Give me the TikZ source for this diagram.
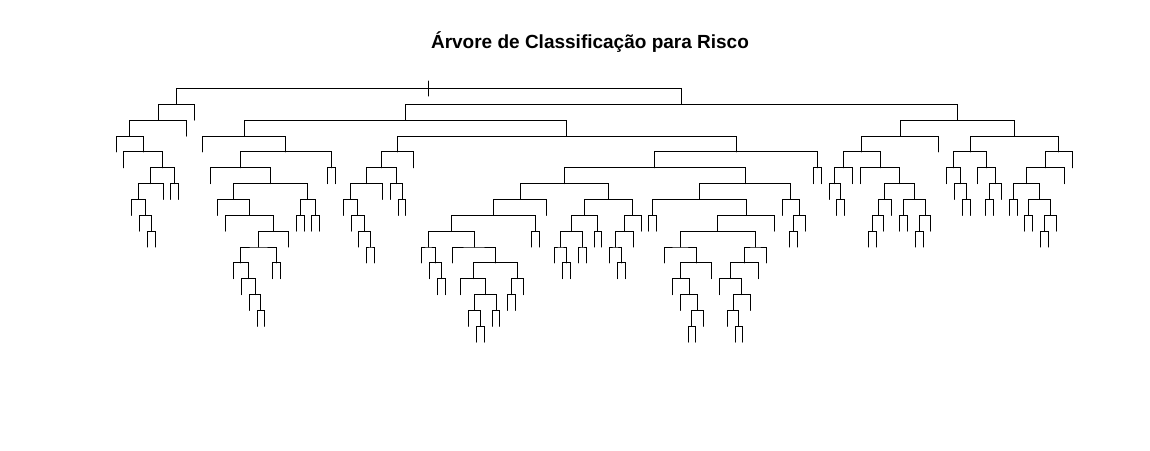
\documentclass[tikz,border=0pt]{standalone}
\usepackage{fontspec}
\setmainfont{Liberation Sans}
\usetikzlibrary{calc}
\tikzset{br/.style={draw=black,line width=1pt,line cap=round}}
% name, left child, right child, depth
\newcommand\tbranch[4]{%
  \coordinate (#1m) at ($(#2)!0.5!(#3)$);
  \coordinate (#1) at (#1m |- D#4);
  \draw[br] (#2) |- (#1) -| (#3);}
\begin{document}
\begin{tikzpicture}[x=1pt,y=-1pt]
\useasboundingbox (0,0) rectangle (1150,450);
\node[anchor=base,font=\fontsize{19}{22}\selectfont\bfseries] (title) at (590,48) {Árvore de Classificação para Risco};
\foreach \d in {0,...,16} \coordinate (D\d) at (0,{88.5+15.85*\d});
\foreach \k/\d in {0/4,1/5,2/8,3/9,4/10,5/10,6/7,7/7,8/7,9/3,10/2,11/4,12/6,13/8,14/9,15/12,16/13,17/14,18/15,19/15,20/12,21/12,22/10,23/9,24/9,25/9,26/9,27/6,28/6,29/8,30/9,31/10,32/11,33/11,34/7,35/7,36/8,37/8,38/5,39/11,40/12,41/13,42/13,43/11,44/13,45/15,46/16,47/16,48/15,49/15,50/14,51/14,52/13,53/10,54/10,55/8,56/11,57/12,58/12,59/11,60/11,61/10,62/10,63/11,64/12,65/12,66/10,67/9,68/9,69/9,70/11,71/13,72/14,73/16,74/16,75/15,76/12,77/13,78/15,79/16,80/16,81/14,82/12,83/11,84/9,85/8,86/10,87/10,88/9,89/6,90/6,91/7,92/8,93/8,94/6,95/6,96/10,97/10,98/9,99/8,100/9,101/9,102/10,103/10,104/9,105/4,106/6,107/7,108/8,109/8,110/6,111/8,112/8,113/7,114/8,115/8,116/9,117/9,118/10,119/10,120/9,121/6,122/5}
  \coordinate (L\k) at ({116+7.836*\k},{88.5+15.85*\d});
% left subtree
\tbranch{n1}{L4}{L5}{9}
\tbranch{n2}{L3}{n1}{8}
\tbranch{n3}{L2}{n2}{7}
\tbranch{n4}{n3}{L6}{6}
\tbranch{n5}{L7}{L8}{6}
\tbranch{n6}{n4}{n5}{5}
\tbranch{n7}{L1}{n6}{4}
\tbranch{n8}{L0}{n7}{3}
\tbranch{n9}{n8}{L9}{2}
\tbranch{n10}{n9}{L10}{1}
% right-left-left
\tbranch{n11}{L18}{L19}{14}
\tbranch{n12}{L17}{n11}{13}
\tbranch{n13}{L16}{n12}{12}
\tbranch{n14}{L15}{n13}{11}
\tbranch{n15}{L20}{L21}{11}
\tbranch{n16}{n14}{n15}{10}
\tbranch{n17}{n16}{L22}{9}
\tbranch{n18}{L14}{n17}{8}
\tbranch{n19}{L13}{n18}{7}
\tbranch{n20}{L23}{L24}{8}
\tbranch{n21}{L25}{L26}{8}
\tbranch{n22}{n20}{n21}{7}
\tbranch{n23}{n19}{n22}{6}
\tbranch{n24}{L12}{n23}{5}
\tbranch{n25}{L27}{L28}{5}
\tbranch{n26}{n24}{n25}{4}
\tbranch{n27}{L11}{n26}{3}
% right-left-right, 398
\tbranch{n28}{L32}{L33}{10}
\tbranch{n29}{L31}{n28}{9}
\tbranch{n30}{L30}{n29}{8}
\tbranch{n31}{L29}{n30}{7}
\tbranch{n32}{n31}{L34}{6}
\tbranch{n33}{L36}{L37}{7}
\tbranch{n34}{L35}{n33}{6}
\tbranch{n35}{n32}{n34}{5}
\tbranch{n36}{n35}{L38}{4}
% 736 subtree
\tbranch{n37}{L41}{L42}{12}
\tbranch{n38}{L40}{n37}{11}
\tbranch{n39}{L39}{n38}{10}
\tbranch{n40}{L46}{L47}{15}
\tbranch{n41}{L45}{n40}{14}
\tbranch{n42}{L48}{L49}{14}
\tbranch{n43}{n41}{n42}{13}
\tbranch{n44}{L44}{n43}{12}
\tbranch{n45}{L50}{L51}{13}
\tbranch{n46}{n45}{L52}{12}
\tbranch{n47}{n44}{n46}{11}
\tbranch{n48}{L43}{n47}{10}
\tbranch{n49}{n39}{n48}{9}
\tbranch{n50}{L53}{L54}{9}
\tbranch{n51}{n49}{n50}{8}
\tbranch{n52}{n51}{L55}{7}
\tbranch{n53}{L57}{L58}{11}
\tbranch{n54}{L56}{n53}{10}
\tbranch{n55}{L59}{L60}{10}
\tbranch{n56}{n54}{n55}{9}
\tbranch{n57}{L61}{L62}{9}
\tbranch{n58}{n56}{n57}{8}
\tbranch{n59}{L64}{L65}{11}
\tbranch{n60}{L63}{n59}{10}
\tbranch{n61}{n60}{L66}{9}
\tbranch{n62}{n61}{L67}{8}
\tbranch{n63}{n58}{n62}{7}
\tbranch{n64}{n52}{n63}{6}
\tbranch{n65}{L68}{L69}{8}
\tbranch{n66}{L73}{L74}{15}
\tbranch{n67}{n66}{L75}{14}
\tbranch{n68}{L72}{n67}{13}
\tbranch{n69}{L71}{n68}{12}
\tbranch{n70}{n69}{L76}{11}
\tbranch{n71}{L70}{n70}{10}
\tbranch{n72}{L79}{L80}{15}
\tbranch{n73}{L78}{n72}{14}
\tbranch{n74}{n73}{L81}{13}
\tbranch{n75}{L77}{n74}{12}
\tbranch{n76}{n75}{L82}{11}
\tbranch{n77}{n76}{L83}{10}
\tbranch{n78}{n71}{n77}{9}
\tbranch{n79}{n78}{L84}{8}
\tbranch{n80}{n65}{n79}{7}
\tbranch{n81}{L86}{L87}{9}
\tbranch{n82}{n81}{L88}{8}
\tbranch{n83}{L85}{n82}{7}
\tbranch{n84}{n80}{n83}{6}
\tbranch{n85}{n64}{n84}{5}
\tbranch{n86}{L89}{L90}{5}
\tbranch{n87}{n85}{n86}{4}
\tbranch{n88}{n36}{n87}{3}
\tbranch{n89}{n27}{n88}{2}
% right-right
\tbranch{n90}{L92}{L93}{7}
\tbranch{n91}{L91}{n90}{6}
\tbranch{n92}{n91}{L94}{5}
\tbranch{n93}{L96}{L97}{9}
\tbranch{n94}{n93}{L98}{8}
\tbranch{n95}{n94}{L99}{7}
\tbranch{n96}{L100}{L101}{8}
\tbranch{n97}{L102}{L103}{9}
\tbranch{n98}{n97}{L104}{8}
\tbranch{n99}{n96}{n98}{7}
\tbranch{n100}{n95}{n99}{6}
\tbranch{n101}{L95}{n100}{5}
\tbranch{n102}{n92}{n101}{4}
\tbranch{n103}{n102}{L105}{3}
\tbranch{n104}{L108}{L109}{7}
\tbranch{n105}{L107}{n104}{6}
\tbranch{n106}{L106}{n105}{5}
\tbranch{n107}{L111}{L112}{7}
\tbranch{n108}{n107}{L113}{6}
\tbranch{n109}{L110}{n108}{5}
\tbranch{n110}{n106}{n109}{4}
\tbranch{n111}{L114}{L115}{7}
\tbranch{n112}{L116}{L117}{8}
\tbranch{n113}{L118}{L119}{9}
\tbranch{n114}{n113}{L120}{8}
\tbranch{n115}{n112}{n114}{7}
\tbranch{n116}{n111}{n115}{6}
\tbranch{n117}{n116}{L121}{5}
\tbranch{n118}{n117}{L122}{4}
\tbranch{n119}{n110}{n118}{3}
\tbranch{n120}{n103}{n119}{2}
\tbranch{n121}{n89}{n120}{1}
\tbranch{n122}{n10}{n121}{0}
% root tick
\coordinate (tickTop) at ([yshift=7.5pt]n122);
\coordinate (tickBot) at ([yshift=-7.5pt]n122);
\draw[br] (tickTop) -- (tickBot);
\end{tikzpicture}
\end{document}
